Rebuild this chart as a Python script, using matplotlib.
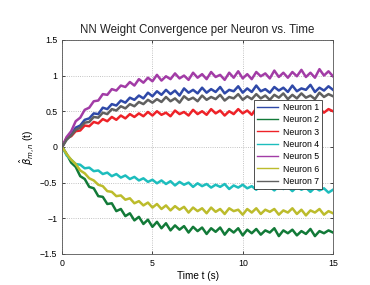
import numpy as np
import matplotlib
matplotlib.use('Agg')
import matplotlib.pyplot as plt

plt.rcParams['font.family'] = ['Liberation Sans', 'DejaVu Sans']

# sampled values every 0.25 s, 0..15 s
n1 = [0.00, 0.12, 0.17, 0.27, 0.30, 0.38, 0.40, 0.47, 0.46, 0.55, 0.53, 0.60, 0.58, 0.65, 0.62, 0.69, 0.66, 0.72, 0.68, 0.76,
      0.71, 0.78, 0.73, 0.80, 0.74, 0.79, 0.72, 0.82, 0.76, 0.80, 0.75, 0.83, 0.76, 0.81, 0.77, 0.84, 0.75, 0.80, 0.78, 0.85,
      0.76, 0.82, 0.77, 0.86, 0.78, 0.81, 0.76, 0.84, 0.79, 0.83, 0.77, 0.86, 0.78, 0.82, 0.80, 0.87, 0.77, 0.83, 0.79, 0.85, 0.80]
n2 = [0.00, -0.10, -0.22, -0.28, -0.41, -0.45, -0.56, -0.58, -0.69, -0.70, -0.80, -0.79, -0.90, -0.87, -0.97, -0.93, -1.03, -0.98, -1.08, -1.02,
      -1.12, -1.05, -1.14, -1.07, -1.17, -1.10, -1.16, -1.11, -1.20, -1.12, -1.18, -1.13, -1.22, -1.14, -1.19, -1.13, -1.23, -1.15, -1.20, -1.14,
      -1.24, -1.16, -1.21, -1.15, -1.23, -1.17, -1.20, -1.14, -1.25, -1.17, -1.21, -1.16, -1.24, -1.18, -1.22, -1.15, -1.25, -1.18, -1.21, -1.17, -1.20]
n3 = [0.00, 0.13, 0.15, 0.22, 0.23, 0.30, 0.29, 0.35, 0.33, 0.39, 0.36, 0.42, 0.38, 0.44, 0.40, 0.46, 0.42, 0.47, 0.43, 0.49,
      0.44, 0.50, 0.45, 0.48, 0.43, 0.51, 0.46, 0.49, 0.44, 0.52, 0.46, 0.50, 0.45, 0.53, 0.47, 0.51, 0.44, 0.50, 0.46, 0.53,
      0.47, 0.51, 0.45, 0.54, 0.48, 0.52, 0.46, 0.50, 0.47, 0.54, 0.48, 0.52, 0.46, 0.55, 0.49, 0.51, 0.47, 0.54, 0.48, 0.53, 0.50]
n4 = [0.00, -0.12, -0.18, -0.24, -0.25, -0.30, -0.29, -0.34, -0.33, -0.38, -0.36, -0.41, -0.38, -0.43, -0.40, -0.45, -0.42, -0.47, -0.44, -0.49,
      -0.46, -0.51, -0.47, -0.52, -0.48, -0.54, -0.49, -0.53, -0.50, -0.56, -0.51, -0.55, -0.52, -0.57, -0.53, -0.56, -0.52, -0.59, -0.54, -0.57,
      -0.53, -0.58, -0.55, -0.60, -0.54, -0.58, -0.56, -0.61, -0.55, -0.59, -0.56, -0.62, -0.56, -0.60, -0.57, -0.63, -0.57, -0.61, -0.58, -0.64, -0.60]
n5 = [0.00, 0.14, 0.22, 0.36, 0.41, 0.52, 0.55, 0.64, 0.65, 0.74, 0.73, 0.81, 0.79, 0.86, 0.84, 0.91, 0.86, 0.95, 0.90, 0.97,
      0.92, 1.01, 0.93, 0.99, 0.95, 1.03, 0.96, 1.00, 0.94, 1.04, 0.97, 1.02, 0.95, 1.05, 0.98, 1.01, 0.94, 1.04, 0.97, 1.06,
      0.96, 1.02, 0.95, 1.05, 0.99, 1.03, 0.96, 1.07, 0.98, 1.04, 0.97, 1.05, 0.99, 1.08, 0.98, 1.04, 0.97, 1.09, 1.00, 1.06, 0.99]
n6 = [0.00, -0.10, -0.18, -0.24, -0.33, -0.37, -0.44, -0.47, -0.53, -0.55, -0.62, -0.63, -0.69, -0.68, -0.74, -0.72, -0.79, -0.76, -0.82, -0.78,
      -0.85, -0.80, -0.87, -0.82, -0.89, -0.83, -0.88, -0.84, -0.92, -0.85, -0.90, -0.86, -0.93, -0.85, -0.91, -0.87, -0.94, -0.86, -0.90, -0.88,
      -0.95, -0.87, -0.92, -0.86, -0.94, -0.88, -0.91, -0.87, -0.95, -0.89, -0.92, -0.86, -0.94, -0.88, -0.96, -0.89, -0.92, -0.87, -0.95, -0.90, -0.93]
n7 = [0.00, 0.10, 0.16, 0.24, 0.27, 0.34, 0.35, 0.42, 0.41, 0.48, 0.46, 0.53, 0.51, 0.57, 0.54, 0.60, 0.57, 0.63, 0.60, 0.66,
      0.62, 0.67, 0.63, 0.70, 0.64, 0.68, 0.62, 0.71, 0.66, 0.69, 0.64, 0.72, 0.66, 0.70, 0.67, 0.73, 0.65, 0.70, 0.68, 0.74,
      0.66, 0.71, 0.67, 0.74, 0.68, 0.72, 0.66, 0.73, 0.69, 0.75, 0.67, 0.73, 0.68, 0.75, 0.69, 0.72, 0.67, 0.76, 0.70, 0.74, 0.71]

series = [n1, n2, n3, n4, n5, n6, n7]
labels = ['Neuron 1', 'Neuron 2', 'Neuron 3', 'Neuron 4', 'Neuron 5', 'Neuron 6', 'Neuron 7']
colors = ['#2f49a8', '#127a38', '#ee2228', '#1dbdbd', '#a23ca6', '#bcbc2c', '#606060']

t = np.linspace(0, 15, len(n1))

fig = plt.figure(figsize=(3.7, 2.85), dpi=100)
ax = fig.add_axes([0.168, 0.109, 0.732, 0.751])

for y, lab, c in zip(series, labels, colors):
    ax.plot(t, y, color=c, lw=1.8, label=lab)

ax.set_xlim(0, 15)
ax.set_ylim(-1.5, 1.5)
ax.set_xticks([0, 5, 10, 15])
ax.set_yticks([-1.5, -1, -0.5, 0, 0.5, 1, 1.5])
ax.set_yticklabels(['\u22121.5', '\u22121', '\u22120.5', '0', '0.5', '1', '1.5'])
ax.tick_params(direction='in', labelsize=6.3, length=2.5, width=0.5, top=True, right=True)
ax.grid(True, linestyle=':', color='#b0b0b0', lw=0.6)
for s in ax.spines.values():
    s.set_linewidth(0.6)
    s.set_color('#555555')

ax.set_title('NN Weight Convergence per Neuron vs. Time', fontsize=8.3, color='#222222', pad=5)
ax.set_xlabel('Time t (s)', fontsize=7.2, labelpad=2)
ax.set_ylabel(r'$\hat{\beta}_{m,n}$ (t)', fontsize=7.2, labelpad=2)

leg = ax.legend(loc='upper right', bbox_to_anchor=(0.96, 0.72), fontsize=6.3, fancybox=False,
                framealpha=1, edgecolor='#333333', handlelength=2.4, handletextpad=0.6,
                borderpad=0.35, labelspacing=0.38, borderaxespad=0)
leg.get_frame().set_linewidth(0.6)
for ln in leg.get_lines():
    ln.set_linewidth(1.0)

fig.savefig('out.png', dpi=100)
